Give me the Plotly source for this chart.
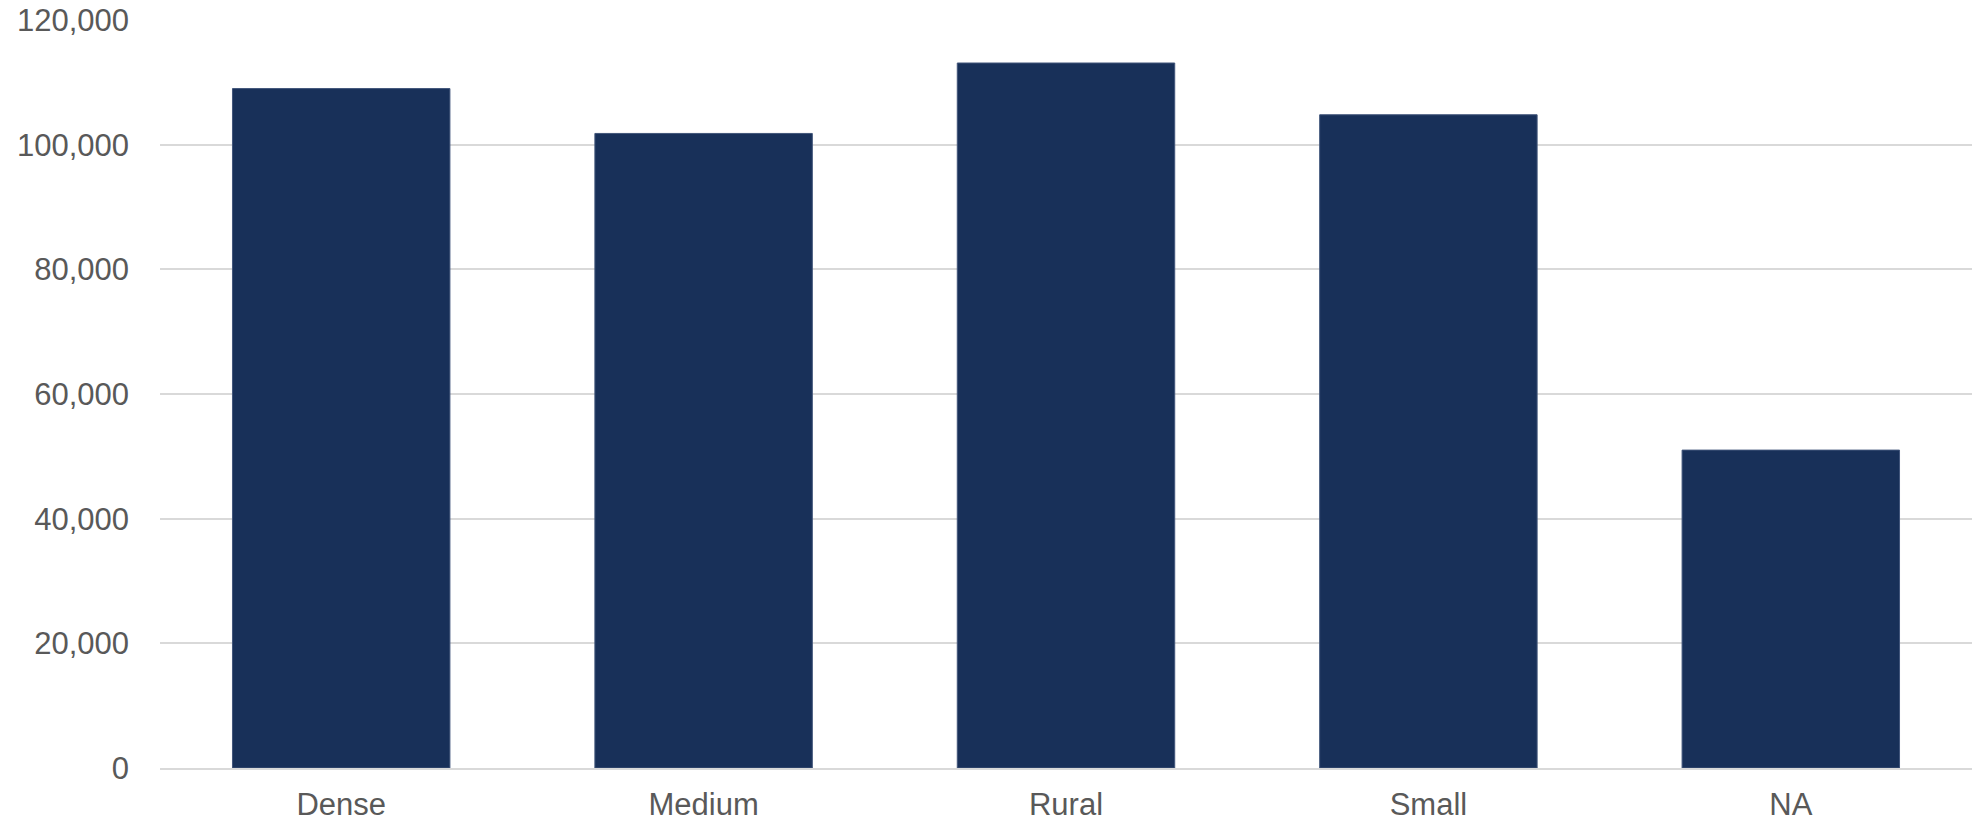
import plotly.graph_objects as go

categories = ["Dense", "Medium", "Rural", "Small", "NA"]
values = [109000, 101800, 113100, 104800, 51000]
y_ticks = [0, 20000, 40000, 60000, 80000, 100000, 120000]
y_tick_labels = ["0", "20,000", "40,000", "60,000", "80,000", "100,000", "120,000"]

fig = go.Figure(
    go.Bar(
        x=categories,
        y=values,
        marker=dict(color="#183059", line=dict(color="#41557a", width=1)),
        hoverinfo="x+y",
    )
)

fig.update_layout(
    width=1975,
    height=824,
    margin=dict(l=160, r=3, t=20, b=56, autoexpand=False),
    paper_bgcolor="white",
    plot_bgcolor="white",
    bargap=0.4,
    showlegend=False,
    font=dict(family="Liberation Sans, Arial, sans-serif", size=31, color="#595959"),
)
fig.update_yaxes(
    range=[0, 120000],
    tickvals=y_ticks,
    ticktext=y_tick_labels,
    showgrid=True,
    gridcolor="#d9d9d9",
    gridwidth=1.5,
    zeroline=False,
    showline=False,
    automargin=False,
    ticklabelstandoff=30,
    tickfont=dict(size=31, color="#595959"),
)
fig.update_xaxes(
    showline=True,
    linecolor="#d9d9d9",
    linewidth=1.5,
    showgrid=False,
    automargin=False,
    ticklabelstandoff=8,
    tickfont=dict(size=31, color="#595959"),
)

fig.write_html(
    "out.html",
    config={"displayModeBar": False},
    post_script="document.body.style.margin='0';document.body.style.overflow='hidden';",
)
